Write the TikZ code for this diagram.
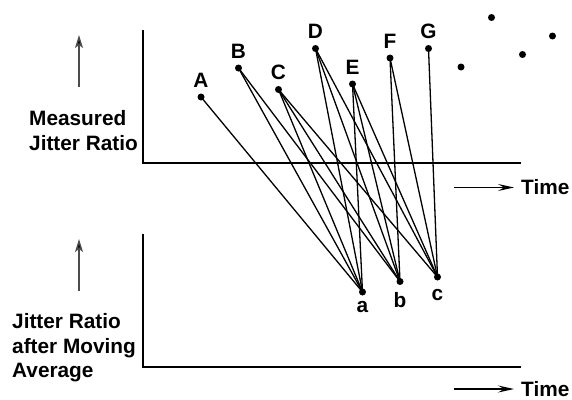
\documentclass[tikz,border=0pt]{standalone}
\usepackage{fontspec}
\setmainfont{Liberation Sans}
\usetikzlibrary{arrows.meta,positioning,calc}
\tikzset{
  dot/.style={circle, fill=black, inner sep=0pt, minimum size=7pt},
  txt/.style={font=\fontsize{20.8}{24.8}\selectfont\bfseries, inner sep=0pt},
  link/.style={line width=1.3pt},
  axis/.style={line width=1.3pt},
  tip/.style={-{Stealth[length=16pt,width=7pt,inset=6pt]}, line width=1.3pt},
  uptip/.style={-{Stealth[length=13pt,width=8pt,inset=3pt,fill=black]}, draw=black!70, line width=1.4pt}
}

\begin{document}
\begin{tikzpicture}[x=1pt,y=-1pt]
    \useasboundingbox (0,0) rectangle (572,399);

    % Upper axes
    \coordinate (top1) at (143,30);
    \coordinate (org1) at (143,163);
    \coordinate (end1) at (521,163);
    \draw[axis] (top1) -- (org1) -- (end1);
    % Lower axes
    \coordinate (top2) at (143,234);
    \coordinate (org2) at (143,367);
    \coordinate (end2) at (521,367);
    \draw[axis] (top2) -- (org2) -- (end2);

    % Axis labels
    \node[txt, align=left, anchor=north west] (ylab1) at (29,110.5) {Measured\\Jitter Ratio};
    \node[txt, align=left, anchor=north west] (ylab2) at (12,313) {Jitter Ratio\\after Moving\\Average};
    \coordinate (v1s) at (79,87);
    \coordinate (v1e) at (79,35);
    \draw[uptip] (v1s) -- (v1e);
    \coordinate (v2s) at (79,291);
    \coordinate (v2e) at (79,239);
    \draw[uptip] (v2s) -- (v2e);

    \node[txt, anchor=west] (time1) at (521,187.5) {Time};
    \node[txt, anchor=west] (time2) at (521,389) {Time};
    \coordinate (t1s) at (454,187.5);
    \coordinate (t2s) at (454,389);
    \draw[tip] (t1s) -- ([xshift=-7pt]time1.west);
    \draw[tip] (t2s) -- ([xshift=-7pt]time2.west);

    % Measured points
    \foreach \n/\x/\y in {A/201/97, B/238.5/68, C/278.5/89.5, D/315.5/48.5, E/352.5/84, F/390/58, G/428.5/48.5} {
        \node[dot] (p\n) at (\x,\y) {};
        \node[txt, anchor=base] (l\n) at ([yshift=10pt]p\n) {\n};
    }
    \foreach \i/\x/\y in {1/461/67, 2/491.5/17.5, 3/522.5/54.5, 4/552.5/36}
        \node[dot] (q\i) at (\x,\y) {};

    % Averaged points
    \foreach \n/\x/\y/\d in {a/362.5/292/20, b/400/281.5/26, c/437.5/277/23} {
        \node[dot] (m\n) at (\x,\y) {};
        \node[txt, anchor=base] (l\n) at ([yshift=-\d pt]m\n) {\n};
    }

    % Moving average window
    \foreach \s/\t in {A/a, B/a, C/a, D/a, E/a, B/b, C/b, D/b, E/b, F/b, C/c, D/c, E/c, F/c, G/c}
        \draw[link] (p\s.center) -- (m\t.center);
\end{tikzpicture}
\end{document}
